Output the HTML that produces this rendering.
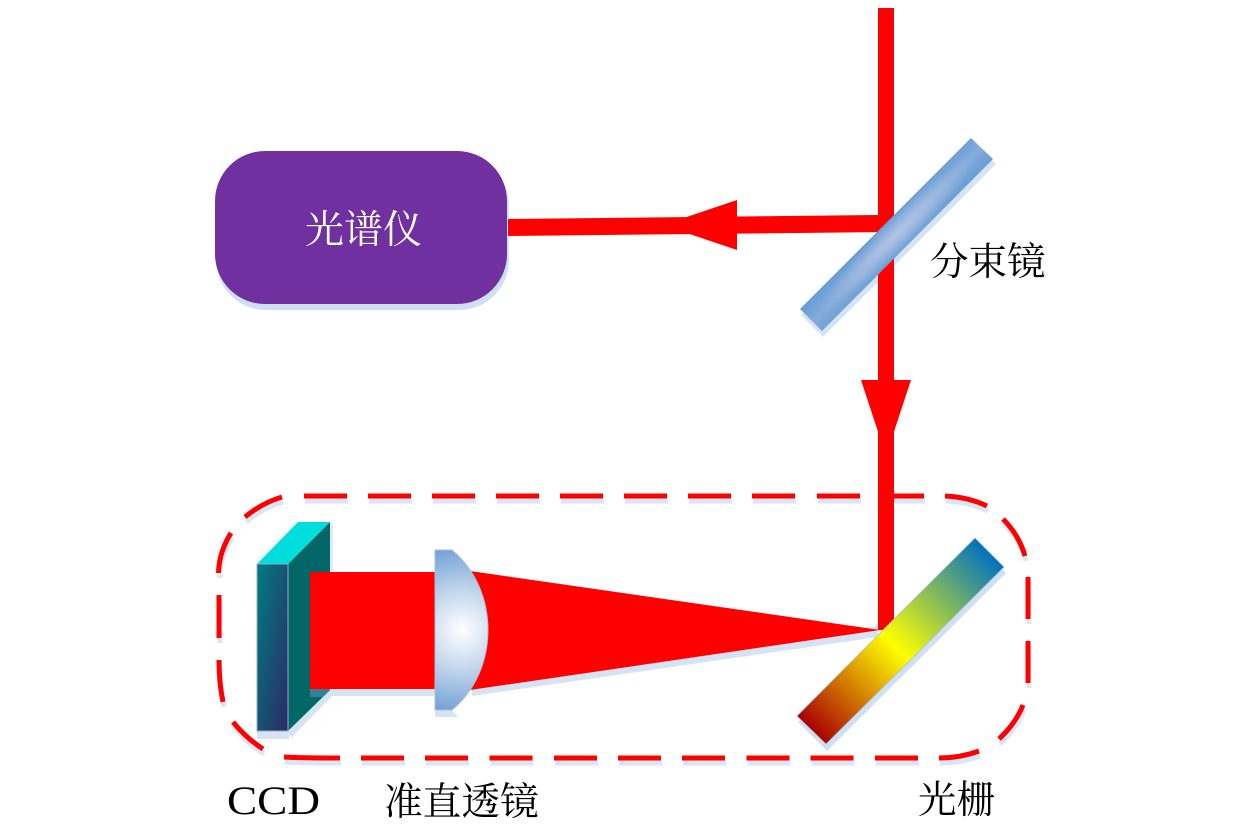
<!DOCTYPE html>
<html><head><meta charset="utf-8"><style>
html,body{margin:0;padding:0;background:#fff;width:1260px;height:834px;overflow:hidden}
svg{display:block}
text{font-family:"Liberation Serif","Noto Serif CJK SC",serif}
</style></head><body>
<svg width="1260" height="834" viewBox="0 0 1260 834" xmlns="http://www.w3.org/2000/svg">
<defs>
<linearGradient id="split" gradientUnits="userSpaceOnUse" x1="886" y1="224" x2="908" y2="245">
<stop offset="0" stop-color="#6a9fd6"/><stop offset=".5" stop-color="#86acdc"/><stop offset="1" stop-color="#6a9fd6"/></linearGradient>
<radialGradient id="splitGlow" gradientUnits="userSpaceOnUse" cx="0" cy="0" r="1" gradientTransform="translate(897,234) rotate(-45) scale(110,15)">
<stop offset="0" stop-color="#b2c4e4" stop-opacity="1"/><stop offset="1" stop-color="#b2c4e4" stop-opacity="0"/></radialGradient>
<linearGradient id="grat" gradientUnits="userSpaceOnUse" x1="811" y1="730" x2="990" y2="552">
<stop offset="0" stop-color="#a80000"/><stop offset=".47" stop-color="#ffff00"/><stop offset="1" stop-color="#0070c0"/></linearGradient>
<radialGradient id="lens" gradientUnits="userSpaceOnUse" cx="462" cy="630" r="85">
<stop offset="0" stop-color="#ffffff"/><stop offset=".45" stop-color="#c5d8ee"/><stop offset="1" stop-color="#6f9fd4"/></radialGradient>
<linearGradient id="ccd" x1="0" y1="0" x2="1" y2="1">
<stop offset="0" stop-color="#007c80"/><stop offset="1" stop-color="#2b2a66"/></linearGradient>
<path id="dash" d="M245 517Q262 503 282 497M231 533Q219 552 218.500 573M219 595V638M219 660Q219 683 223 702M233 722Q246 738 263 749M284 757Q300 758 340 758
M361 758H404M425 758H468M489.500 758H532.500M554 758H597M618 758H661M682 758H725M746.500 758H789.500M810.500 758H853.500M875 758H918M979 751Q960 758 939 758
M304 496H347M368 496H411M432 496H475M496 496H539M560 496H603M624 496H667M688 496H731M752 496H795M817 496H860M881 496H924M945 496Q968 497 987 506M1003 519Q1019 535 1025 556
M1028 577V619M1028 641V683M1023 705Q1016 723 999 739"/>
</defs>

<!-- shadows -->
<use href="#dash" transform="translate(1,5)" fill="none" stroke="#dbe6f4" stroke-width="5"/>
<rect x="216" y="156" width="293" height="154" rx="50" fill="#cfe0f3"/>
<polygon points="801,315 823,337 996,164 973,143" fill="#d5e3f3"/>
<polygon points="798,722 827,751 1006,573 977,544" fill="#d0dff1"/>
<polygon points="472,696 878,637 878,626 472,680" fill="#d5e3f3"/>
<rect x="330" y="689" width="105" height="7" fill="#d5e3f3"/>
<polygon points="288,731 330,690 334,694 291,738" fill="#d5e3f3"/>
<rect x="257" y="731" width="32" height="8" fill="#d5e3f3"/>
<path d="M435 710H452L458 717H435Z" fill="#d5e3f3"/>
<rect x="330" y="525" width="3" height="50" fill="#dde8f5"/>

<!-- dashed -->
<use href="#dash" fill="none" stroke="#ff0000" stroke-width="5"/>

<!-- box -->
<rect x="215" y="151" width="292" height="153" rx="50" fill="#7030a0"/>
<text x="305" y="243" font-size="39" fill="#fff">光谱仪</text>

<!-- beams -->
<rect x="878" y="8" width="16" height="622" fill="#ff0000"/>
<polygon points="508,219 878,215 894,215 894,232 508,236" fill="#ff0000"/>
<polygon points="737,200 737,250 663,225" fill="#ff0000"/>
<polygon points="861,380 911,380 886,456" fill="#ff0000"/>

<!-- splitter -->
<polygon points="800,309 822,331 993,159 971,138" fill="url(#split)"/>
<polygon points="800,309 822,331 993,159 971,138" fill="url(#splitGlow)"/>

<!-- CCD -->
<polygon points="288,564 330,522 330,690 288,731" fill="#006666"/>
<polygon points="257,564 298,522 330,522 288,564" fill="#00dddd"/>
<rect x="257" y="564" width="31" height="167" fill="url(#ccd)" stroke="#8fb0c8" stroke-width="1"/>

<!-- red beam -->
<polygon points="310,689 330,689 330,690 323,697 310,697" fill="#2f8098"/>
<rect x="310" y="572" width="126" height="117" fill="#ff0000"/>
<polygon points="470,571 880,630 470,690" fill="#ff0000"/>

<!-- lens -->
<path d="M435 550H452C476 570 488 600 488 630C488 660 476 690 452 710H435Z" fill="url(#lens)" stroke="#a8c0dc" stroke-width="1"/>

<!-- grating -->
<polygon points="797,716 826,744 1004,567 975,538" fill="url(#grat)" stroke="#a9bfdc" stroke-width=".7"/>

<!-- labels -->
<text x="930" y="275" font-size="38.500" fill="#000">分束镜</text>
<text x="227" y="814" font-size="40" fill="#000" textLength="93" lengthAdjust="spacingAndGlyphs">CCD</text>
<text x="384" y="815" font-size="38.700" fill="#000">准直透镜</text>
<text x="918" y="813" font-size="38.500" fill="#000">光栅</text>
</svg>
</body></html>
